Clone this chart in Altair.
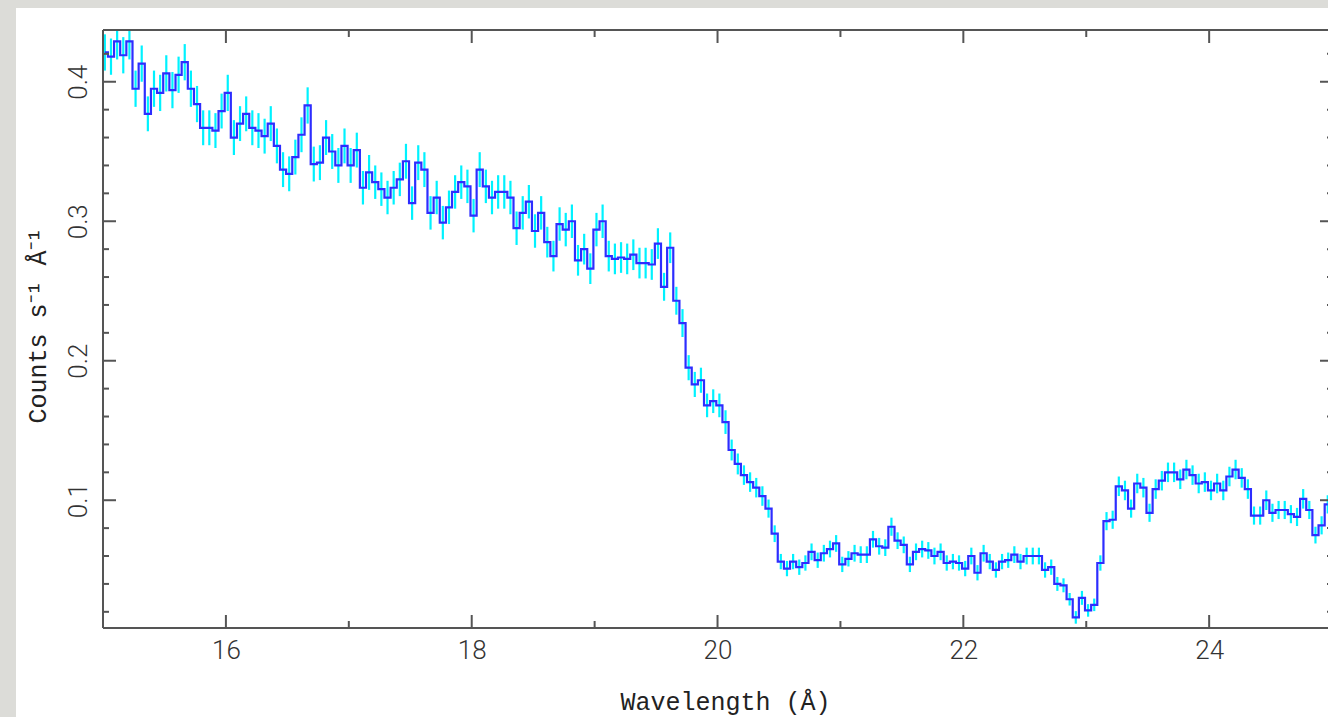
import altair as alt
import pandas as pd

# ---------------- data ----------------
first_center = 15.015   # centre of the first (partial) bin, Angstrom
bin_width = 0.05

counts = [
    0.421, 0.418, 0.429, 0.419, 0.429, 0.395, 0.413, 0.377, 0.395, 0.392,
    0.406, 0.394, 0.405, 0.414, 0.395, 0.384, 0.367, 0.367, 0.365, 0.379,
    0.392, 0.360, 0.370, 0.377, 0.367, 0.365, 0.361, 0.370, 0.354, 0.337,
    0.334, 0.346, 0.362, 0.383, 0.341, 0.342, 0.360, 0.350, 0.340, 0.354,
    0.340, 0.351, 0.324, 0.335, 0.328, 0.323, 0.317, 0.324, 0.330, 0.343,
    0.313, 0.342, 0.337, 0.306, 0.317, 0.299, 0.310, 0.321, 0.328, 0.325,
    0.304, 0.337, 0.325, 0.317, 0.321, 0.321, 0.317, 0.295, 0.306, 0.314,
    0.293, 0.306, 0.285, 0.275, 0.298, 0.294, 0.300, 0.272, 0.280, 0.266,
    0.294, 0.300, 0.275, 0.273, 0.274, 0.273, 0.276, 0.270, 0.270, 0.269,
    0.284, 0.253, 0.281, 0.243, 0.227, 0.195, 0.183, 0.186, 0.168, 0.171,
    0.168, 0.156, 0.136, 0.126, 0.118, 0.113, 0.109, 0.103, 0.094, 0.076,
    0.056, 0.051, 0.056, 0.052, 0.055, 0.063, 0.057, 0.062, 0.065, 0.069,
    0.054, 0.058, 0.062, 0.061, 0.061, 0.072, 0.067, 0.066, 0.081, 0.071,
    0.068, 0.054, 0.063, 0.065, 0.064, 0.060, 0.063, 0.055, 0.056, 0.055,
    0.051, 0.060, 0.048, 0.062, 0.056, 0.050, 0.056, 0.057, 0.061, 0.056,
    0.060, 0.060, 0.060, 0.050, 0.052, 0.040, 0.039, 0.029, 0.016, 0.030,
    0.021, 0.025, 0.055, 0.085, 0.086, 0.110, 0.107, 0.094, 0.112, 0.109,
    0.091, 0.108, 0.114, 0.120, 0.120, 0.115, 0.122, 0.118, 0.112, 0.113,
    0.107, 0.112, 0.107, 0.117, 0.122, 0.116, 0.108, 0.089, 0.089, 0.100,
    0.091, 0.093, 0.093, 0.090, 0.088, 0.101, 0.093, 0.075, 0.082, 0.097,
]

errors = [
    0.013, 0.013, 0.013, 0.013, 0.013, 0.013, 0.013, 0.0125, 0.013, 0.013,
    0.013, 0.013, 0.013, 0.013, 0.013, 0.013, 0.0125, 0.0125, 0.0125, 0.0125,
    0.013, 0.0125, 0.0125, 0.0125, 0.0125, 0.0125, 0.0125, 0.0125, 0.0125, 0.0125,
    0.0125, 0.0125, 0.0125, 0.013, 0.0125, 0.0125, 0.0125, 0.0125, 0.0125, 0.0125,
    0.0125, 0.0125, 0.012, 0.0125, 0.012, 0.012, 0.012, 0.012, 0.012, 0.0125,
    0.012, 0.0125, 0.0125, 0.012, 0.012, 0.012, 0.012, 0.012, 0.012, 0.012,
    0.012, 0.0125, 0.012, 0.012, 0.012, 0.012, 0.012, 0.012, 0.012, 0.012,
    0.012, 0.012, 0.011, 0.011, 0.012, 0.012, 0.012, 0.011, 0.011, 0.011,
    0.012, 0.012, 0.011, 0.011, 0.011, 0.011, 0.011, 0.011, 0.011, 0.011,
    0.011, 0.010, 0.011, 0.010, 0.010, 0.009, 0.009, 0.009, 0.0085, 0.0085,
    0.0085, 0.0085, 0.0075, 0.0075, 0.007, 0.007, 0.007, 0.007, 0.0065, 0.006,
    0.0055, 0.0055, 0.0055, 0.0055, 0.0055, 0.006, 0.0055, 0.006, 0.006, 0.006,
    0.0055, 0.0055, 0.006, 0.006, 0.006, 0.006, 0.006, 0.006, 0.0065, 0.006,
    0.006, 0.0055, 0.006, 0.006, 0.006, 0.006, 0.006, 0.0055, 0.0055, 0.0055,
    0.0055, 0.006, 0.0055, 0.006, 0.0055, 0.0055, 0.0055, 0.0055, 0.006, 0.0055,
    0.006, 0.006, 0.006, 0.0055, 0.0055, 0.005, 0.005, 0.0045, 0.0045, 0.005,
    0.0045, 0.0045, 0.0055, 0.0065, 0.0065, 0.007, 0.007, 0.0065, 0.007, 0.007,
    0.0065, 0.007, 0.007, 0.007, 0.007, 0.007, 0.007, 0.007, 0.007, 0.007,
    0.007, 0.007, 0.007, 0.007, 0.007, 0.007, 0.007, 0.0065, 0.0065, 0.007,
    0.0065, 0.0065, 0.0065, 0.0065, 0.0065, 0.007, 0.0065, 0.006, 0.0065, 0.0065,
]

x_major = [16, 18, 20, 22, 24]
x_minor = [17, 19, 21, 23]
y_major = [0.1, 0.2, 0.3, 0.4]
y_minor = [0.02, 0.04, 0.06, 0.08, 0.12, 0.14, 0.16, 0.18, 0.22, 0.24, 0.26,
           0.28, 0.32, 0.34, 0.36, 0.38, 0.42]

x_title = "Wavelength (Å)"
y_title = "Counts s⁻¹ Å⁻¹"

# ---------------- table ----------------
wl = [round(first_center + bin_width * i, 4) for i in range(len(counts))]
df = pd.DataFrame({
    "wl": wl,
    "val": counts,
    "lo": [c - e for c, e in zip(counts, errors)],
    "hi": [c + e for c, e in zip(counts, errors)],
})

W, H = 1225, 598
AX = "#555555"
xscale = alt.Scale(domain=[15, 24.967], nice=False, zero=False)
yscale = alt.Scale(domain=[0.0084, 0.4371], nice=False, zero=False)

xaxis = alt.Axis(values=x_major, format="d", title=x_title, domain=False,
                 ticks=False, grid=False, labelPadding=9, labelBaseline="top",
                 labelFont="Roboto", labelFontSize=26, labelFontWeight=300,
                 labelColor="#333333", titleFont="Liberation Mono",
                 titleFontSize=25, titleFontWeight="normal", titleColor="#222222",
                 titleX=622, titleY=81, titleBaseline="alphabetic",
                 titleAlign="center", zindex=2)
yaxis = alt.Axis(values=y_major, format=".1f", title=y_title, domain=False,
                 ticks=False, grid=False, labelAngle=270, labelAlign="center",
                 labelBaseline="alphabetic", labelPadding=17,
                 labelFont="Roboto", labelFontSize=26, labelFontWeight=300,
                 labelColor="#333333", titleFont="Liberation Mono",
                 titleFontSize=25, titleFontWeight="normal", titleColor="#222222",
                 titleAngle=270, titleAlign="center", titleBaseline="alphabetic",
                 titleX=-58, titleY=295, zindex=2)

X = alt.X("wl:Q", scale=xscale, axis=xaxis)
Y = alt.Y("val:Q", scale=yscale, axis=yaxis)

one = alt.Data(values=[{"a": 1}])

panel = alt.Chart(one).mark_rect(color="white").encode(
    x=alt.value(-87), x2=alt.value(W + 20), y=alt.value(-22), y2=alt.value(H + 120))

err = alt.Chart(df).mark_rule(color="#00f2ff", strokeWidth=2.2, clip=True).encode(
    x=X, y=alt.Y("lo:Q", scale=yscale, axis=yaxis), y2="hi:Q")

line = alt.Chart(df).mark_line(color="#2d2dff", strokeWidth=2.2,
                               interpolate="step", clip=True).encode(x=X, y=Y)

frame = [
    alt.Chart(one).mark_rule(color=AX, strokeWidth=2).encode(
        x=alt.value(0), y=alt.value(0), y2=alt.value(H)),
    alt.Chart(one).mark_rule(color=AX, strokeWidth=2).encode(
        x=alt.value(0), x2=alt.value(W + 10), y=alt.value(0)),
    alt.Chart(one).mark_rule(color=AX, strokeWidth=2).encode(
        x=alt.value(0), x2=alt.value(W + 10), y=alt.value(H)),
]

xmaj = pd.DataFrame({"wl": x_major})
xmin = pd.DataFrame({"wl": x_minor})
ymaj = pd.DataFrame({"val": y_major})
ymin = pd.DataFrame({"val": y_minor})

ticks = []
for d, ln in ((xmaj, 13), (xmin, 7)):
    ticks.append(alt.Chart(d).mark_rule(color=AX, strokeWidth=2).encode(
        x=X, y=alt.value(H), y2=alt.value(H - ln)))
    ticks.append(alt.Chart(d).mark_rule(color=AX, strokeWidth=2).encode(
        x=X, y=alt.value(0), y2=alt.value(ln)))
for d, ln in ((ymaj, 13), (ymin, 6)):
    ticks.append(alt.Chart(d).mark_rule(color=AX, strokeWidth=2).encode(
        y=Y, x=alt.value(0), x2=alt.value(ln)))
    ticks.append(alt.Chart(d).mark_rule(color=AX, strokeWidth=2).encode(
        y=Y, x=alt.value(W + 5), x2=alt.value(W + 5 - ln)))

chart = alt.layer(panel, err, line, *frame, *ticks).properties(
    width=W, height=H,
    padding={"left": 103, "top": 30, "right": 0, "bottom": 89},
    autosize=alt.AutoSizeParams(type="none"),
    background="#dcdcd8",
).configure_view(stroke=None)

chart.save("out.html", embed_options={"renderer": "svg", "actions": False})
